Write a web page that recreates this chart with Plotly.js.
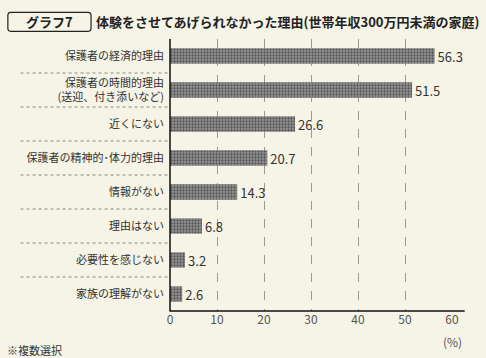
<!DOCTYPE html>
<html><head><meta charset="utf-8">
<script src="https://cdn.plot.ly/plotly-3.0.1.min.js"></script>
<style>html,body{margin:0;padding:0;background:#f6f4e6;}</style>
</head><body><div id="chart" style="width:486px;height:358px;"></div>
<script>
var categories = ["保護者の経済的理由","保護者の時間的理由<br>(送迎、付き添いなど)","近くにない","保護者の精神的･体力的理由","情報がない","理由はない","必要性を感じない","家族の理解がない"];
var values = [56.3, 51.5, 26.6, 20.7, 14.3, 6.8, 3.2, 2.6];
var tickVals = [0,10,20,30,40,50,60];
var labels = values.map(function(v){return v.toFixed(1);});

var font = "Noto Sans CJK JP, Noto Sans, sans-serif";
var shapes = [];
for (var i = 0; i < categories.length - 1; i++) {
  shapes.push({type:'line', xref:'paper', yref:'y', x0:-0.53, x1:0, y0:i+0.5, y1:i+0.5,
    line:{color:'#8a8a84', width:1, dash:'dot'}});
}
shapes.push({type:'line', xref:'paper', yref:'paper', x0:-0.002, x1:1.045, y0:0, y1:0, line:{color:'#111', width:1.5}});
shapes.push({type:'line', xref:'paper', yref:'paper', x0:0, x1:0, y0:0, y1:1, line:{color:'#111', width:1.5}});
// rounded box around "グラフ7"
shapes.push({type:'path', xref:'paper', yref:'paper',
  path: 'M -0.565 1.098 L -0.29 1.098 Q -0.28 1.098 -0.28 1.086 L -0.28 1.040 Q -0.28 1.028 -0.29 1.028 L -0.565 1.028 Q -0.575 1.028 -0.575 1.040 L -0.575 1.086 Q -0.575 1.098 -0.565 1.098 Z',
  line:{color:'#222', width:1.2}});

var data = [{
  type:'bar', orientation:'h', y:categories, x:values,
  text: labels, textposition:'outside', cliponaxis:false, constraintext:'none',
  textfont:{family:font, size:13, color:'#333'},
  width:0.45,
  marker:{color:'#8c8c8c', line:{width:0},
    pattern:{shape:'.', fgcolor:'#555555', bgcolor:'#959595', size:3, solidity:0.45}},
  hoverinfo:'skip'
}];

var layout = {
  width:486, height:358,
  margin:{l:170, r:34, t:39, b:47},
  paper_bgcolor:'#f6f4e6', plot_bgcolor:'#f6f4e6',
  showlegend:false,
  bargap:0.55,
  uniformtext:{mode:false},
  xaxis:{range:[0,60], tickvals:tickVals, ticktext:tickVals.map(String),
    showgrid:true, gridcolor:'#9a9a94', griddash:'dash', gridwidth:1,
    zeroline:false, showline:false, ticks:'',
    tickfont:{family:font, size:12, color:'#555'}, fixedrange:true},
  yaxis:{autorange:'reversed', showgrid:false, zeroline:false, showline:false,
    ticks:'', ticklabelstandoff:5,
    tickfont:{family:font, size:11, color:'#333'}, fixedrange:true},
  shapes:shapes,
  annotations:[
    {xref:'paper', yref:'paper', x:-0.428, y:1.063, text:'<b>グラフ7</b>', showarrow:false,
      font:{family:font, size:13, color:'#222'}, xanchor:'center', yanchor:'middle'},
    {xref:'paper', yref:'paper', x:-0.268, y:1.063, text:'<b>体験をさせてあげられなかった理由(世帯年収300万円未満の家庭)</b>', showarrow:false,
      font:{family:font, size:13, color:'#222'}, xanchor:'left', yanchor:'middle'},
    {xref:'x', yref:'paper', x:60, y:-0.075, text:'(%)', showarrow:false,
      font:{family:font, size:12, color:'#555'}, xanchor:'center', yanchor:'top'},
    {xref:'paper', yref:'paper', x:-0.585, y:-0.108, text:'※複数選択', showarrow:false,
      font:{family:font, size:11, color:'#333'}, xanchor:'left', yanchor:'top'}
  ]
};
Plotly.newPlot('chart', data, layout, {displayModeBar:false, staticPlot:true});
</script></body></html>
